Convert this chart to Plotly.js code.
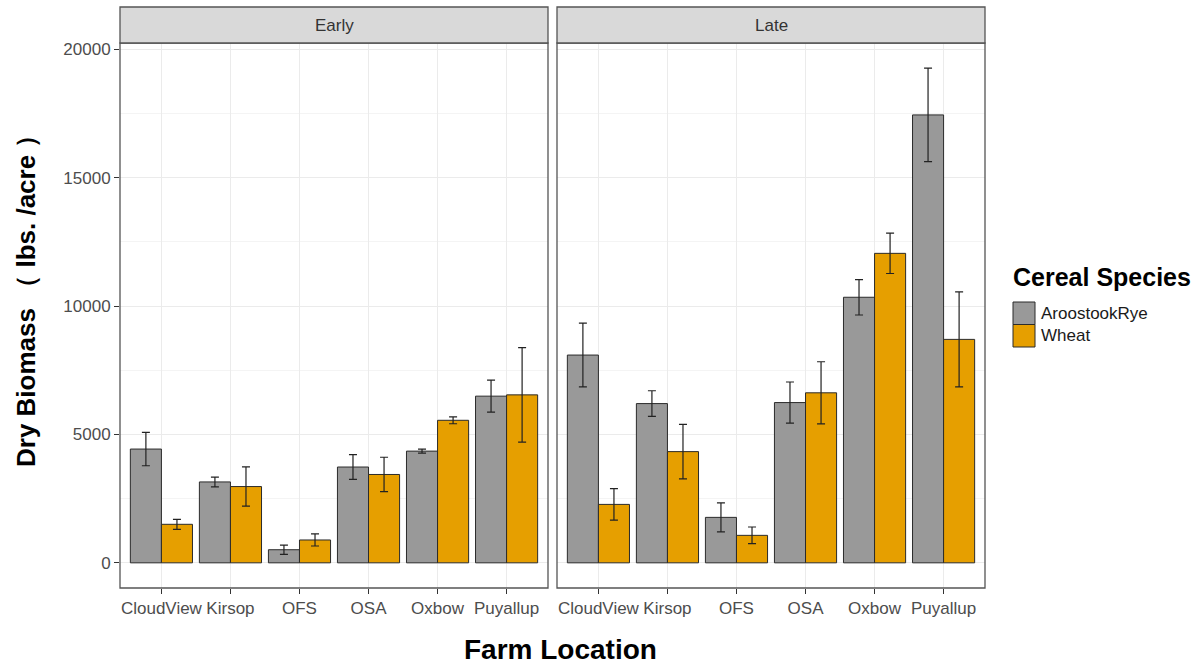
<!DOCTYPE html>
<html>
<head>
<meta charset="utf-8">
<script src="https://cdn.plot.ly/plotly-3.0.1.min.js"></script>
<style>html,body{margin:0;padding:0;background:#fff;}#chart{width:1202px;height:664px;}</style>
</head>
<body>
<div id="chart"></div>
<script>
// ---- data ----
const locations = ["CloudView", "Kirsop", "OFS", "OSA", "Oxbow", "Puyallup"];
const facets = ["Early", "Late"];
const species = ["AroostookRye", "Wheat"];

const earlyRye = [4430, 3150, 510, 3730, 4350, 6490];
const earlyRyeSE = [650, 190, 180, 480, 80, 620];
const earlyWheat = [1500, 2970, 890, 3440, 5550, 6540];
const earlyWheatSE = [195, 765, 235, 670, 135, 1840];

const lateRye = [8090, 6200, 1770, 6240, 10340, 17440];
const lateRyeSE = [1240, 500, 565, 800, 690, 1820];
const lateWheat = [2275, 4330, 1070, 6620, 12050, 8700];
const lateWheatSE = [615, 1060, 325, 1210, 785, 1850];

const yTicks = [0, 5000, 10000, 15000, 20000];

// ---- styles ----
const speciesColors = ["#999999", "#E69F00"];
const font = "Liberation Sans, Arial, sans-serif";

function barTrace(name, y, se, color, xa, ya) {
  return {
    type: "bar", name: name, x: locations, y: y,
    xaxis: xa, yaxis: ya, legendgroup: name, showlegend: false,
    marker: {color: color, line: {color: "#2b2b2b", width: 1}},
    error_y: {type: "data", array: se, visible: true, color: "#222", thickness: 1.2, width: 4},
    hoverinfo: "x+y+name"
  };
}

const data = [
  barTrace(species[0], earlyRye, earlyRyeSE, speciesColors[0], "x", "y"),
  barTrace(species[1], earlyWheat, earlyWheatSE, speciesColors[1], "x", "y"),
  barTrace(species[0], lateRye, lateRyeSE, speciesColors[0], "x2", "y2"),
  barTrace(species[1], lateWheat, lateWheatSE, speciesColors[1], "x2", "y2")
];

const plotL = 120, plotR = 985, plotT = 43, plotB = 588;
const W = 1202, H = 664;
const pw = plotR - plotL, ph = plotB - plotT;
const px = x => (x - plotL) / pw;      // pixel -> paper x
const py = y => (plotB - y) / ph;      // pixel -> paper y
const d1 = [0, px(548)];
const d2 = [px(557), 1];
const stripTop = py(7);

const xaxisBase = {
  type: "category", range: [-0.6, 5.6],
  showgrid: true, gridcolor: "#ebebeb", gridwidth: 1,
  ticks: "outside", ticklen: 5, tickcolor: "#333", tickwidth: 1,
  tickfont: {family: font, size: 17, color: "#4d4d4d"},
  showline: false, zeroline: false, fixedrange: true
};
const yRange = [-980, 20240];
const yaxisBase = {
  range: yRange, tickvals: yTicks, ticktext: yTicks.map(String),
  showgrid: true, gridcolor: "#ebebeb", gridwidth: 1,
  minor: {dtick: 2500, tick0: 0, showgrid: true, gridcolor: "#f4f4f4", gridwidth: 1, ticks: ""},
  zeroline: false, showline: false, fixedrange: true
};

const shapes = [];
[d1, d2].forEach(d => {
  shapes.push({type: "rect", xref: "paper", yref: "paper", x0: d[0], x1: d[1], y0: 0, y1: 1,
    line: {color: "#555", width: 1.3}, fillcolor: "rgba(0,0,0,0)", layer: "above"});
  shapes.push({type: "rect", xref: "paper", yref: "paper", x0: d[0], x1: d[1], y0: 1, y1: stripTop,
    line: {color: "#555", width: 1.3}, fillcolor: "#d9d9d9", layer: "above"});
});

const annotations = [
  {text: facets[0], xref: "paper", yref: "paper", x: (d1[0] + d1[1]) / 2, y: (1 + stripTop) / 2,
   showarrow: false, font: {family: font, size: 17, color: "#333"}, xanchor: "center", yanchor: "middle"},
  {text: facets[1], xref: "paper", yref: "paper", x: (d2[0] + d2[1]) / 2, y: (1 + stripTop) / 2,
   showarrow: false, font: {family: font, size: 17, color: "#333"}, xanchor: "center", yanchor: "middle"},
  {text: "<b>Farm Location</b>", xref: "paper", yref: "paper", x: px(560), y: py(649),
   showarrow: false, font: {family: font, size: 28, color: "#000"}, xanchor: "center", yanchor: "middle"},
  {text: "<b>Dry Biomass （ lbs. /acre ）</b>", xref: "paper", yref: "paper", x: px(26), y: py(295),
   showarrow: false, textangle: -90, font: {family: font, size: 26, color: "#000"}, xanchor: "center", yanchor: "middle"},
  // legend title
  {text: "<b>Cereal Species</b>", xref: "paper", yref: "paper", x: px(1011), y: py(277),
   showarrow: false, font: {family: font, size: 25, color: "#000"}, xanchor: "left", yanchor: "middle"}
];

// legend keys (built from species/colour arrays)
const keyTop = 302, keyH = 22.5, keyL = 1013, keyW = 22;
species.forEach((s, i) => {
  const y0 = keyTop + i * keyH;
  shapes.push({type: "rect", xref: "paper", yref: "paper",
    x0: px(keyL), x1: px(keyL + keyW), y0: py(y0 + keyH), y1: py(y0),
    line: {color: "#2b2b2b", width: 1}, fillcolor: speciesColors[i]});
  annotations.push({text: s, xref: "paper", yref: "paper", x: px(keyL + keyW + 4), y: py(y0 + keyH / 2),
    showarrow: false, font: {family: font, size: 17, color: "#1a1a1a"}, xanchor: "left", yanchor: "middle"});
});

const layout = {
  width: W, height: H,
  margin: {l: plotL, r: W - plotR, t: plotT, b: H - plotB, pad: 0},
  paper_bgcolor: "#fff", plot_bgcolor: "#fff",
  font: {family: font},
  barmode: "group", bargap: 0.1, bargroupgap: 0,
  xaxis: Object.assign({}, xaxisBase, {domain: d1, anchor: "y"}),
  xaxis2: Object.assign({}, xaxisBase, {domain: d2, anchor: "y2"}),
  yaxis: Object.assign({}, yaxisBase, {
    anchor: "x", ticks: "outside", ticklen: 5, tickcolor: "#333",
    tickfont: {family: font, size: 17, color: "#4d4d4d"}, showticklabels: true
  }),
  yaxis2: Object.assign({}, yaxisBase, {anchor: "x2", matches: "y", ticks: "", showticklabels: false}),
  showlegend: false,
  shapes: shapes,
  annotations: annotations
};

Plotly.newPlot("chart", data, layout, {staticPlot: true, displayModeBar: false});
</script>
</body>
</html>
